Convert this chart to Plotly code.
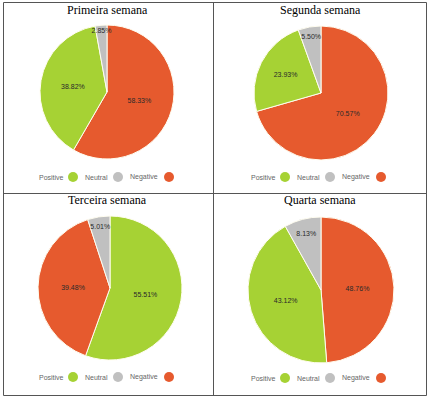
import plotly.graph_objects as go

W, H = 428, 398

categories = ["Positive", "Neutral", "Negative"]
colors = ["#a6d234", "#c0c0c0", "#e65a2e"]
titles = ["Primeira semana", "Segunda semana", "Terceira semana", "Quarta semana"]
week1 = [38.82, 2.85, 58.33]
week2 = [23.93, 5.50, 70.57]
week3 = [55.51, 5.01, 39.48]
week4 = [43.12, 8.13, 48.76]
weeks = [week1, week2, week3, week4]

# panel geometry in pixels: pie centre, radius, panel centre x, title y, legend y
panels = [
    dict(cx=107, cy=92, r=67, px=108, ty=10, ly=177),
    dict(cx=321, cy=93, r=67, px=320, ty=10, ly=177),
    dict(cx=110, cy=288, r=72, px=108, ty=200, ly=377),
    dict(cx=321, cy=290, r=73, px=320, ty=200, ly=378),
]
legend_text_dx = [-42, 2, 52]
legend_dot_dx = [-35, 10, 61]

def px_x(v):
    return v / W

def px_y(v):
    return 1 - v / H

fig = go.Figure()
annotations = []
shapes = []

for p, vals, title in zip(panels, weeks, titles):
    fig.add_trace(go.Pie(
        labels=categories,
        values=vals,
        marker=dict(colors=colors, line=dict(color="#fffdf0", width=1)),
        sort=True,
        direction="clockwise",
        rotation=0,
        texttemplate="%{value:.2f}%",
        textposition="inside",
        insidetextorientation="horizontal",
        textfont=dict(family="Liberation Sans", size=7, color="#2a2a2a"),
        hoverinfo="label+percent",
        showlegend=False,
        domain=dict(
            x=[px_x(p["cx"] - p["r"]), px_x(p["cx"] + p["r"])],
            y=[px_y(p["cy"] + p["r"]), px_y(p["cy"] - p["r"])],
        ),
    ))
    annotations.append(dict(
        x=px_x(p["px"]), y=px_y(p["ty"]), xref="paper", yref="paper",
        text=title, showarrow=False, xanchor="center", yanchor="middle",
        font=dict(family="Liberation Serif", size=12, color="#000000"),
    ))
    for cat, col, tdx, ddx in zip(categories, colors, legend_text_dx, legend_dot_dx):
        annotations.append(dict(
            x=px_x(p["px"] + tdx), y=px_y(p["ly"]), xref="paper", yref="paper",
            text=cat, showarrow=False, xanchor="right", yanchor="middle",
            font=dict(family="Liberation Sans", size=7, color="#666666"),
        ))
        cxd = p["px"] + ddx
        shapes.append(dict(
            type="circle", xref="paper", yref="paper",
            x0=px_x(cxd - 5), x1=px_x(cxd + 5),
            y0=px_y(p["ly"] + 5), y1=px_y(p["ly"] - 5),
            fillcolor=col, line=dict(width=0),
        ))

# panel borders
border = dict(color="#555555", width=1)
shapes.append(dict(type="rect", xref="paper", yref="paper",
                   x0=px_x(3.5), x1=px_x(426.5), y0=px_y(395.5), y1=px_y(2.5), line=border))
shapes.append(dict(type="line", xref="paper", yref="paper",
                   x0=px_x(213.5), x1=px_x(213.5), y0=px_y(395.5), y1=px_y(2.5), line=border))
shapes.append(dict(type="line", xref="paper", yref="paper",
                   x0=px_x(3.5), x1=px_x(426.5), y0=px_y(193.5), y1=px_y(193.5), line=border))

fig.update_layout(
    width=W, height=H,
    margin=dict(l=0, r=0, t=0, b=0),
    paper_bgcolor="#ffffff",
    plot_bgcolor="#ffffff",
    annotations=annotations,
    shapes=shapes,
    uniformtext=dict(minsize=7, mode="show"),
)

fig.write_html(
    "out.html",
    config={"displayModeBar": False},
    post_script="document.body.style.margin='0';document.body.style.overflow='hidden';",
)
